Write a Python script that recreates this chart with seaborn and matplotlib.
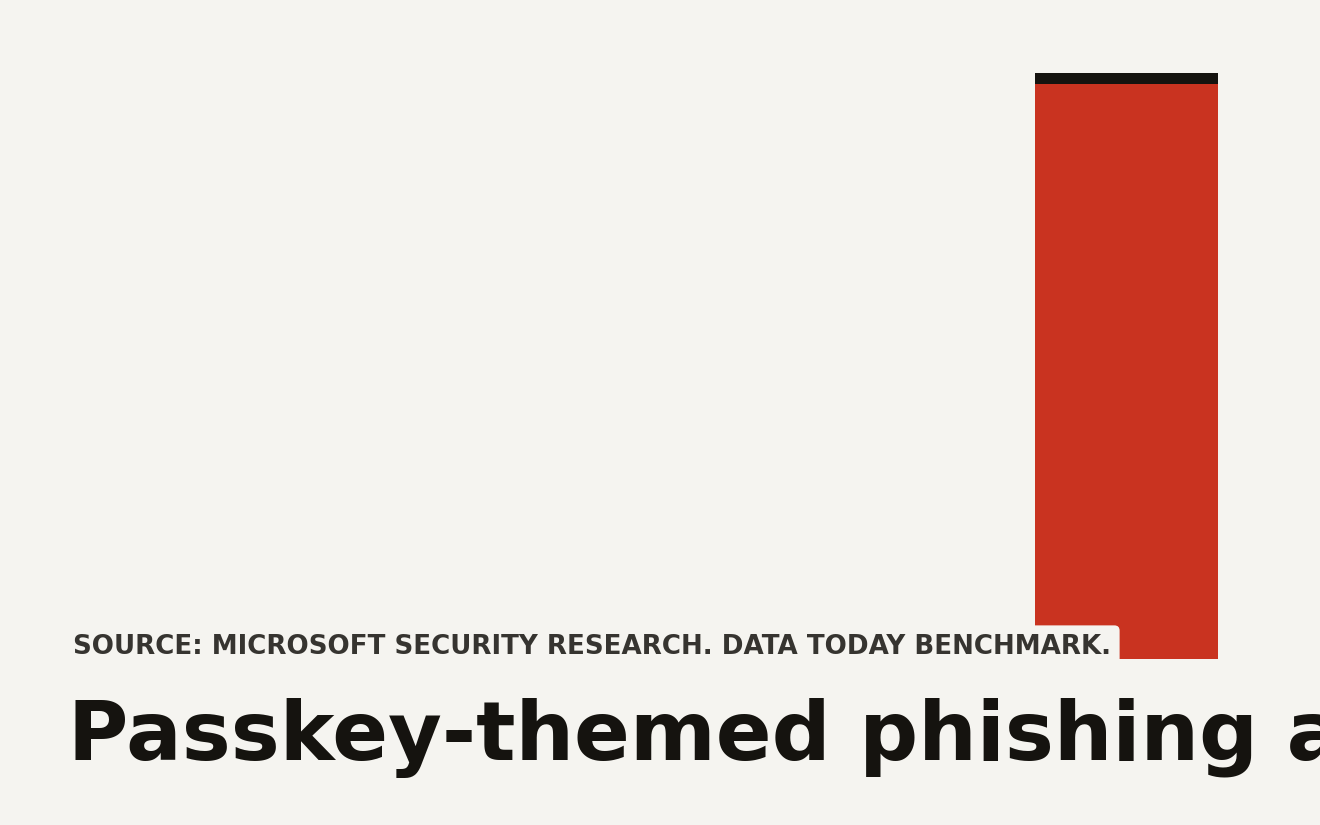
import matplotlib
matplotlib.use("Agg")
import matplotlib.pyplot as plt
import seaborn as sns
import pandas as pd

# ---- data ----
categories = ["Passkey-themed phishing"]
values = [100]

title_text = "Passkey-themed phishing a"
source_text = "SOURCE: MICROSOFT SECURITY RESEARCH. DATA TODAY BENCHMARK."

BG = "#f5f4f0"
RED = "#c93320"
INK = "#15130f"
SRC = "#363430"

sns.set_theme(style="white")
plt.rcParams['font.family'] = ['DejaVu Sans']

W, H = 1320, 825
fig = plt.figure(figsize=(W / 100, H / 100), dpi=100)
fig.patch.set_facecolor(BG)

left, right, top, bottom = 1035, 1218, 73, 659
ax = fig.add_axes([left / W, (H - bottom) / H, (right - left) / W, (bottom - top) / H])
ax.set_facecolor(BG)

df = pd.DataFrame({"cat": categories, "val": values})
sns.barplot(data=df, x="cat", y="val", color=RED, width=1.0, saturation=1,
            edgecolor="none", linewidth=0, ax=ax)
ax.set_xlim(-0.5, 0.5)
ax.set_ylim(0, max(values))

# black top cap on the bar
cap_frac = 11 / (bottom - top)
for p in ax.patches[:len(values)]:
    h = p.get_height()
    ax.bar(p.get_x() + p.get_width() / 2, h * cap_frac, bottom=h * (1 - cap_frac),
           width=p.get_width(), color=INK, linewidth=0)

ax.set_axis_off()

fig.text(73 / W, (H - 654) / H, source_text, fontsize=18.8, fontweight="bold",
         color=SRC, ha="left", va="baseline", zorder=5,
         bbox=dict(boxstyle="round,pad=0.33,rounding_size=0.2", facecolor=BG,
                   edgecolor="none"))

fig.text(68 / W, (H - 760) / H, title_text, fontsize=59.3, fontweight="bold",
         color=INK, ha="left", va="baseline")

fig.savefig("out.png", dpi=100, facecolor=BG)
